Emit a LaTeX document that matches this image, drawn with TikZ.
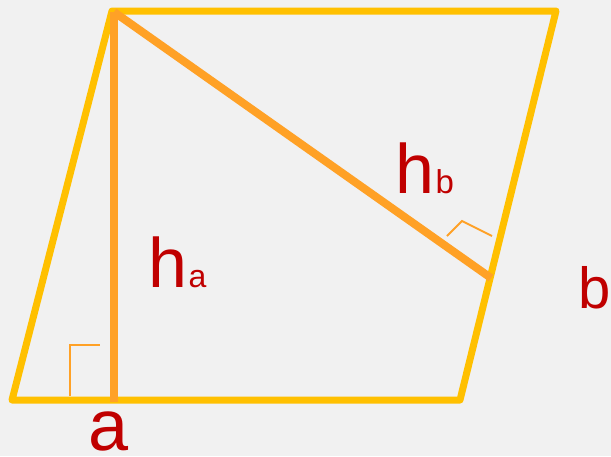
\documentclass[tikz,border=0pt]{standalone}
\usepackage{fontspec}
\setmainfont{Liberation Sans}
\definecolor{bg}{HTML}{F1F1F1}
\definecolor{para}{HTML}{FFC000}
\definecolor{hgt}{HTML}{FFA126}
\definecolor{lbl}{HTML}{C00000}
\tikzset{
  side/.style={draw=para, line width=7pt, line join=round},
  hline/.style={draw=hgt, line width=8pt},
  rmark/.style={draw=hgt, line width=2pt},
  lab/.style={text=lbl, inner sep=0pt, anchor=base west},
}
\begin{document}
\begin{tikzpicture}[x=1pt,y=-1pt]
\fill[bg] (0,0) rectangle (611,456);
\useasboundingbox (0,0) rectangle (611,456);
\coordinate (A) at (12,400);
\coordinate (B) at (460,400);
\coordinate (C) at (556,11);
\coordinate (D) at (112,11);
\coordinate (T) at (114,12);
\coordinate (Fa) at (114,402);
\coordinate (Fb) at (491,278);
\draw[side] (A) -- (B) -- (C) -- (D) -- cycle;
\draw[hline] (T) -- (Fa);
\draw[hline] (T) -- (Fb);
\coordinate (r1) at (69.5,396);
\coordinate (r2) at (69.5,345);
\coordinate (r3) at (100,345);
\draw[rmark] (r1) -- (r2) -- (r3);
\coordinate (s1) at (447,236);
\coordinate (s2) at (462,221);
\coordinate (s3) at (492,236);
\draw[rmark] (s1) -- (s2) -- (s3);
\node[lab, font=\fontsize{72}{72}\selectfont] (la) at (88,450) {a};
\node[lab, font=\fontsize{70}{70}\selectfont] (lha) at (148,287) {h};
\node[lab, font=\fontsize{32}{32}\selectfont, anchor=base west] (lhas) at ([xshift=1pt]lha.base east) {a};
\node[lab, font=\fontsize{70}{70}\selectfont] (lhb) at (395,193) {h};
\node[lab, font=\fontsize{33}{33}\selectfont, anchor=base west] (lhbs) at ([xshift=1pt]lhb.base east) {b};
\node[lab, font=\fontsize{58}{58}\selectfont] (lb) at (578,308) {b};
\end{tikzpicture}
\end{document}
